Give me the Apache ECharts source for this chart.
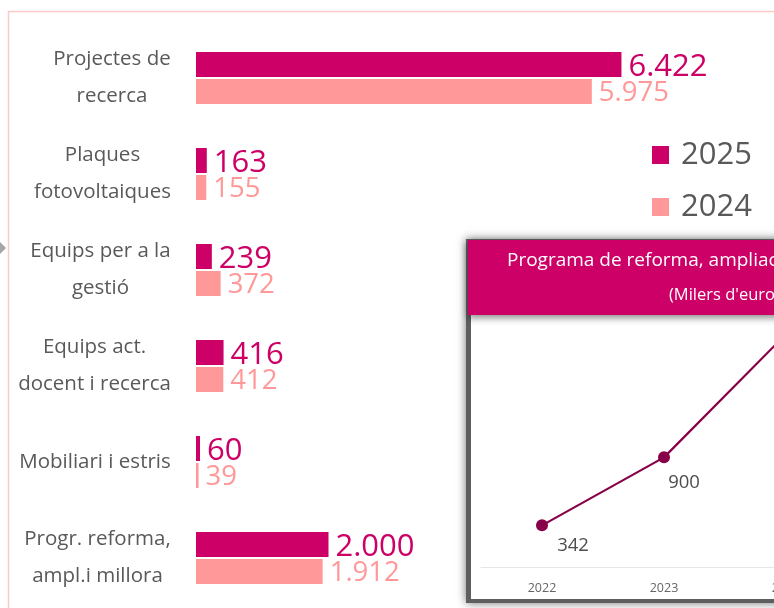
<!DOCTYPE html>
<html>
<head>
<meta charset="utf-8">
<script src="https://cdn.jsdelivr.net/npm/echarts@6/dist/echarts.min.js"></script>
<style>
  html, body { margin: 0; padding: 0; background: #ffffff; }
  #chart { width: 774px; height: 608px; }
</style>
</head>
<body>
<div id="chart"></div>
<script>
// dades
const categories = [
  'Projectes de\nrecerca',
  'Plaques\nfotovoltaiques',
  'Equips per a la\ngestió',
  'Equips act.\ndocent i recerca',
  'Mobiliari i estris',
  'Progr. reforma,\nampl.i millora'
];
const values2025 = [6422, 163, 239, 416, 60, 2000];
const values2024 = [5975, 155, 372, 412, 39, 1912];
const trendYears = ['2022', '2023', '2024', '2025'];
const trendValues = [342, 900, 1912, 2000];

const FONT = '"Open Sans", "Noto Sans", sans-serif';
const C2025 = '#CC0066';
const C2024 = '#FF9999';
const CAT_SIZE = 20.5;

// format amb punt de milers
function fmt(v) {
  return String(v).replace(/\B(?=(\d{3})+(?!\d))/g, '.');
}

// amplada de cada etiqueta per centrar les línies dins el bloc
let ctx = document.createElement('canvas').getContext('2d');
ctx.font = CAT_SIZE + 'px "Open Sans"';
let rich = {};
categories.forEach((c, i) => {
  let w = Math.max(...c.split('\n').map(l => ctx.measureText(l).width));
  rich['r' + i] = {
    width: Math.ceil(w) + 2,
    align: 'center',
    fontSize: CAT_SIZE,
    fontFamily: FONT,
    color: '#595959',
    lineHeight: 37
  };
});

let labelOffsets = [[31, 20], [20, 25], [20, 24], [20, 24]];

let myChart = echarts.init(document.getElementById('chart'));
myChart.setOption({
  animation: false,
  textStyle: { fontFamily: FONT },
  legend: {
    data: ['2025', '2024'],
    orient: 'vertical',
    left: 652,
    top: 139,
    padding: 0,
    icon: 'rect',
    itemWidth: 17,
    itemHeight: 18,
    itemGap: 20,
    textStyle: { fontSize: 31, color: '#595959', fontFamily: FONT, lineHeight: 32, padding: [0, 0, 0, 7] }
  },
  grid: [
    { left: 196, top: 30, width: 530, height: 576, outerBoundsMode: 'none' },
    { left: 481, top: 299, width: 488, height: 268, outerBoundsMode: 'none' }
  ],
  xAxis: [
    { type: 'value', min: 0, max: 8000, show: false, gridIndex: 0 },
    {
      type: 'category',
      gridIndex: 1,
      z: 5,
      data: trendYears,
      axisLine: { lineStyle: { color: '#E6E6E6', width: 1 } },
      axisTick: { show: false },
      axisLabel: { fontSize: 12.5, color: '#666666', margin: 15, fontFamily: FONT }
    }
  ],
  yAxis: [
    {
      type: 'category',
      gridIndex: 0,
      inverse: true,
      data: categories,
      axisLine: { show: false },
      axisTick: { show: false },
      axisLabel: {
        align: 'right',
        margin: 24,
        formatter: (value, index) =>
          value.split('\n').map(l => '{r' + index + '|' + l + '}').join('\n'),
        rich: rich
      }
    },
    { type: 'value', gridIndex: 1, min: 0, max: 2200, show: false }
  ],
  series: [
    {
      name: '2025',
      type: 'bar',
      data: values2025,
      barWidth: 25,
      barGap: '8%',
      itemStyle: { color: C2025 },
      label: {
        show: true,
        position: 'right',
        distance: 7,
        offset: [0, 3],
        color: C2025,
        fontSize: 31,
        fontFamily: FONT,
        formatter: p => fmt(p.value)
      }
    },
    {
      name: '2024',
      type: 'bar',
      data: values2024,
      barWidth: 25,
      barGap: '8%',
      itemStyle: { color: C2024 },
      label: {
        show: true,
        position: 'right',
        distance: 7,
        offset: [0, 2],
        color: C2024,
        fontSize: 27.5,
        fontFamily: FONT,
        formatter: p => fmt(p.value)
      }
    },
    {
      name: 'Programa',
      type: 'line',
      xAxisIndex: 1,
      yAxisIndex: 1,
      data: trendValues.map((v, i) => ({
        value: v,
        label: { offset: labelOffsets[i] }
      })),
      symbol: 'circle',
      symbolSize: 12,
      z: 6,
      itemStyle: { color: '#880048' },
      lineStyle: { color: '#880048', width: 2.2 },
      label: {
        show: true,
        position: 'inside',
        color: '#4D4D4D',
        fontSize: 18.5,
        fontFamily: FONT,
        formatter: p => fmt(p.value)
      }
    }
  ],
  graphic: [
    // marc rosa
    { type: 'line', z: 0, shape: { x1: 8.5, y1: 11, x2: 8.5, y2: 608 }, style: { stroke: '#FFC9C9', lineWidth: 1.5 } },
    { type: 'line', z: 0, shape: { x1: 8, y1: 11.5, x2: 774, y2: 11.5 }, style: { stroke: '#FFC9C9', lineWidth: 1.5 } },
    { type: 'polygon', z: 0, shape: { points: [[0, 242], [6, 248], [0, 254]] }, style: { fill: '#A6A6A6' } },
    // requadre del gràfic petit
    {
      type: 'rect', z: 1,
      shape: { x: 466, y: 239, width: 420, height: 364 },
      style: { fill: '#5E5E5E', shadowBlur: 9, shadowColor: 'rgba(0,0,0,0.55)' }
    },
    {
      type: 'rect', z: 1,
      shape: { x: 471, y: 314, width: 420, height: 285 },
      style: { fill: '#ffffff' }
    },
    {
      type: 'rect', z: 20,
      shape: { x: 468, y: 240, width: 420, height: 75 },
      style: { fill: '#CC0066', shadowBlur: 7, shadowOffsetY: 3, shadowColor: 'rgba(0,0,0,0.45)' }
    },
    {
      type: 'text', z: 21, left: 507, top: 251,
      style: { text: 'Programa de reforma, ampliació i millora', fill: '#ffffff', font: '19px ' + FONT }
    },
    {
      type: 'text', z: 21, left: 669, top: 287,
      style: { text: "(Milers d'euros)", fill: '#ffffff', font: '16.5px ' + FONT }
    }
  ]
});
</script>
</body>
</html>
